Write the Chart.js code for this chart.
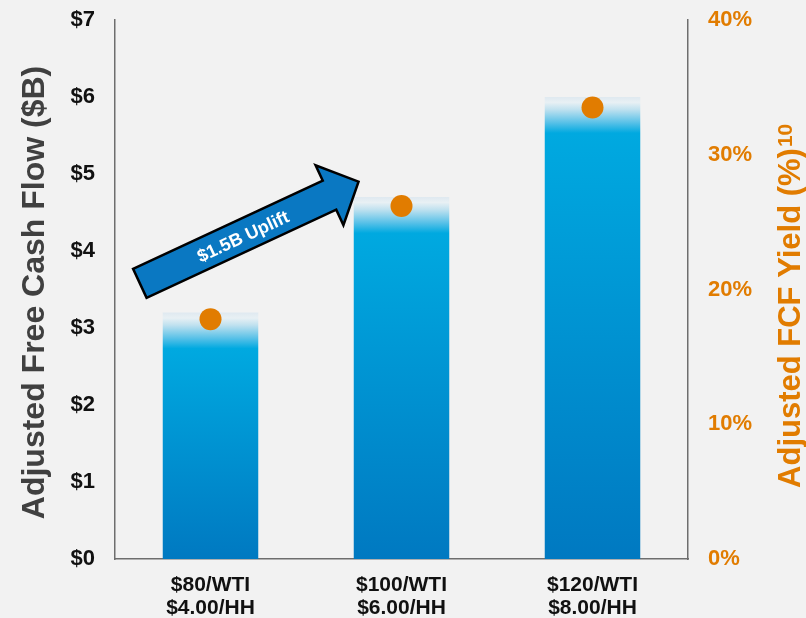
<!DOCTYPE html>
<html>
<head>
<meta charset="utf-8">
<script src="https://cdn.jsdelivr.net/npm/chart.js@4.4.1/dist/chart.umd.min.js"></script>
<style>
    html, body { margin: 0; padding: 0; background: #f2f2f2; }
    canvas { display: block; }
</style>
</head>
<body>
<canvas id="fcfChart" width="806" height="618"></canvas>
<script>
// chart values
const categories = [['$80/WTI', '$4.00/HH'], ['$100/WTI', '$6.00/HH'], ['$120/WTI', '$8.00/HH']];
const fcfBillions = [3.2, 4.7, 6.0];
const fcfYieldPct = [17.8, 26.2, 33.5];
const leftTitle = 'Adjusted Free Cash Flow ($B)';
const rightTitle = 'Adjusted FCF Yield (%)';
const rightTitleNote = '10';
const arrowLabel = '$1.5B Uplift';
// arrow ends in scale units: [category index, $B]
const arrowFrom = [-0.37, 3.58];
const arrowTo = [0.775, 4.9];

const FONT = "'Liberation Sans', Arial, sans-serif";
const ORANGE = '#e17c00';

function barGradient(context) {
    const chart = context.chart;
    const { chartArea, scales } = chart;
    if (!chartArea) return '#00a9e0';
    const top = scales.y.getPixelForValue(context.raw);
    const bottom = scales.y.getPixelForValue(0);
    const f = Math.min(0.9, 36 / (bottom - top));
    const g = chart.ctx.createLinearGradient(0, top, 0, bottom);
    g.addColorStop(0, '#dfe9f0');
    g.addColorStop(f * 0.15, '#e8f0f4');
    g.addColorStop(f * 0.35, '#bfe1ef');
    g.addColorStop(f * 0.7, '#5cc2e8');
    g.addColorStop(f, '#00a9e0');
    g.addColorStop(1, '#0079c1');
    return g;
}

const decorations = {
    id: 'decorations',
    afterDatasetsDraw(chart) {
        const ctx = chart.ctx;
        const x = chart.scales.x, y = chart.scales.y;

        // uplift arrow
        const x0 = x.getPixelForValue(arrowFrom[0]), y0 = y.getPixelForValue(arrowFrom[1]);
        const x1 = x.getPixelForValue(arrowTo[0]), y1 = y.getPixelForValue(arrowTo[1]);
        const len = Math.hypot(x1 - x0, y1 - y0);
        const ang = Math.atan2(y1 - y0, x1 - x0);
        const sw = 16, hw = 33, hl = 32;
        ctx.save();
        ctx.translate(x0, y0);
        ctx.rotate(ang);
        ctx.beginPath();
        ctx.moveTo(0, -sw);
        ctx.lineTo(len - hl, -sw);
        ctx.lineTo(len - hl, -hw);
        ctx.lineTo(len, 0);
        ctx.lineTo(len - hl, hw);
        ctx.lineTo(len - hl, sw);
        ctx.lineTo(0, sw);
        ctx.closePath();
        ctx.fillStyle = '#0a78c2';
        ctx.fill();
        ctx.lineWidth = 2.5;
        ctx.lineJoin = 'miter';
        ctx.strokeStyle = '#000';
        ctx.stroke();
        ctx.fillStyle = '#fff';
        ctx.font = 'bold 18px ' + FONT;
        ctx.textAlign = 'center';
        ctx.textBaseline = 'middle';
        ctx.fillText(arrowLabel, len * 0.47, 2);
        ctx.restore();

        // left axis title
        ctx.save();
        ctx.translate(44, (y.top + y.bottom) / 2 + 3);
        ctx.rotate(-Math.PI / 2);
        ctx.font = 'bold 32px ' + FONT;
        ctx.fillStyle = '#404040';
        ctx.textAlign = 'center';
        ctx.textBaseline = 'alphabetic';
        ctx.fillText(leftTitle, 0, 0);
        ctx.restore();

        // right axis title with note mark
        ctx.save();
        ctx.translate(800, 318);
        ctx.rotate(-Math.PI / 2);
        ctx.font = 'bold 31px ' + FONT;
        ctx.fillStyle = ORANGE;
        ctx.textAlign = 'center';
        ctx.textBaseline = 'alphabetic';
        ctx.fillText(rightTitle, 0, 0);
        const w = ctx.measureText(rightTitle).width;
        ctx.font = 'bold 21px ' + FONT;
        ctx.textAlign = 'left';
        ctx.fillText(rightTitleNote, w / 2 + 1, -8);
        ctx.restore();
    }
};

new Chart(document.getElementById('fcfChart'), {
    type: 'bar',
    data: {
        labels: categories,
        datasets: [{
            type: 'line',
            label: 'Adjusted FCF Yield',
            data: fcfYieldPct,
            yAxisID: 'y1',
            showLine: false,
            pointRadius: 11,
            pointHoverRadius: 11,
            pointBackgroundColor: ORANGE,
            pointBorderWidth: 0,
            order: 0
        }, {
            label: 'Adjusted Free Cash Flow',
            data: fcfBillions,
            yAxisID: 'y',
            backgroundColor: barGradient,
            barPercentage: 0.5,
            categoryPercentage: 1.0,
            order: 1
        }]
    },
    options: {
        responsive: false,
        animation: false,
        layout: { padding: { top: 20, left: 0, right: 0, bottom: 0 } },
        plugins: {
            legend: { display: false },
            tooltip: { enabled: false }
        },
        scales: {
            x: {
                grid: { display: false, drawTicks: false },
                border: { display: true, color: '#6e6e6e', width: 1.5 },
                ticks: {
                    color: '#111',
                    font: { family: FONT, size: 21, weight: 'bold', lineHeight: 1.1 },
                    padding: 15,
                    maxRotation: 0
                },
                afterFit(scale) { scale.height = 59; }
            },
            y: {
                position: 'left',
                min: 0,
                max: 7,
                grid: { display: false, drawTicks: false },
                border: { display: true, color: '#6e6e6e', width: 1.5 },
                ticks: {
                    stepSize: 1,
                    color: '#111',
                    font: { family: FONT, size: 22, weight: 'bold' },
                    padding: 20,
                    callback: v => '$' + v
                },
                afterFit(scale) {
                    scale.width = 115;
                    scale.paddingTop = 12;
                    scale.paddingBottom = 0;
                }
            },
            y1: {
                position: 'right',
                min: 0,
                max: 40,
                grid: { display: false, drawTicks: false },
                border: { display: true, color: '#6e6e6e', width: 1.5 },
                ticks: {
                    stepSize: 10,
                    color: ORANGE,
                    font: { family: FONT, size: 22, weight: 'bold' },
                    padding: 20,
                    callback: v => v + '%'
                },
                afterFit(scale) {
                    scale.width = 118;
                    scale.paddingTop = 12;
                    scale.paddingBottom = 0;
                }
            }
        }
    },
    plugins: [decorations]
});
</script>
</body>
</html>
